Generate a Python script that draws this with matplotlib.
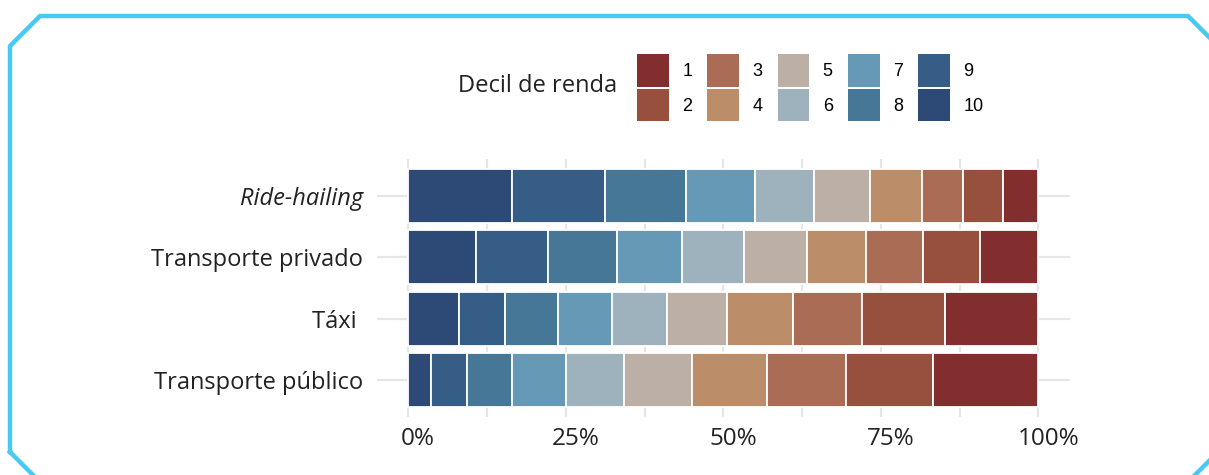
import numpy as np
import matplotlib
matplotlib.use('Agg')
import matplotlib.pyplot as plt
from matplotlib.patches import Patch
from matplotlib.lines import Line2D
from matplotlib.transforms import ScaledTranslation

# ---------------- Dados (% dos usuários por decil de renda) ----------------
modos = ['Transporte público', 'Táxi ', 'Transporte privado', 'Ride-hailing']
decis = ['1', '2', '3', '4', '5', '6', '7', '8', '9', '10']

# valores na ordem decil 1 ... decil 10
publico = [16.7, 13.9, 12.5, 11.9, 10.7, 9.3, 8.5, 7.1, 5.8, 3.6]
taxi = [14.8, 13.2, 10.9, 10.6, 9.5, 8.7, 8.5, 8.5, 7.3, 8.0]
privado = [9.3, 9.1, 9.0, 9.4, 9.9, 9.9, 10.3, 11.0, 11.3, 10.8]
ride_hailing = [5.7, 6.2, 6.6, 8.2, 8.9, 9.3, 11.0, 12.8, 14.8, 16.5]

cores = ['#832E2E', '#974F3E', '#AA6C55', '#BB8E69', '#BCAFA5',
         '#9DB2BD', '#6699B5', '#467797', '#365D86', '#2D4A77']

tick_pos = [0, 25, 50, 75, 100]
tick_txt = ['0%', '25%', '50%', '75%', '100%']

# ---------------- Figura ----------------
W, H = 1209, 475
fig = plt.figure(figsize=(W / 100, H / 100), dpi=100)
ax = fig.add_axes([376.7 / W, 1 - 417 / H, (1070 - 376.7) / W, (417 - 159) / H])

dados = np.array([publico, taxi, privado, ride_hailing])
y = np.arange(len(modos))

# empilha do decil 10 (esquerda) ao decil 1 (direita)
esquerda = np.zeros(len(modos))
for i in range(9, -1, -1):
    ax.barh(y, dados[:, i], left=esquerda, height=0.88, color=cores[i],
            edgecolor='white', linewidth=1.3, zorder=3)
    esquerda = esquerda + dados[:, i]

ax.set_xlim(-5, 105)
ax.set_ylim(-0.6, 3.6)
ax.set_xticks(tick_pos)
ax.set_xticklabels(tick_txt, family='Open Sans', fontsize=17.5, color='#222222')
ax.set_xticks([12.5, 37.5, 62.5, 87.5], minor=True)
ax.set_yticks(y)
ax.set_yticklabels(modos, family='Open Sans', fontsize=17, color='#222222')
ax.get_yticklabels()[3].set_style('italic')
ax.tick_params(axis='both', which='both', length=0)
ax.tick_params(axis='x', pad=7)
ax.tick_params(axis='y', pad=10)
ax.grid(True, which='both', color='#E6E6E6', linewidth=1.6, zorder=0)
for s in ax.spines.values():
    s.set_visible(False)

# rótulos de % ficam um pouco deslocados para a direita no original
desloc = ScaledTranslation(10 / 100, 0, fig.dpi_scale_trans)
for lbl in ax.get_xticklabels():
    lbl.set_transform(lbl.get_transform() + desloc)

# ---------------- Legenda ----------------
handles = [Patch(facecolor=cores[i], edgecolor='none') for i in range(10)]
leg = fig.legend(handles, decis, ncol=5, loc='upper left',
                 bbox_to_anchor=(637 / W, 1 - 54 / H), frameon=False,
                 prop={'family': 'Liberation Sans', 'size': 13},
                 handlelength=1.75, handleheight=2.4, handletextpad=0.75,
                 labelspacing=0.12, columnspacing=0.84, borderpad=0,
                 borderaxespad=0)
fig.text(617 / W, 1 - 86 / H, 'Decil de renda', family='Open Sans',
         fontsize=17, color='#222222', ha='right', va='center')

# ---------------- Moldura ----------------
px = [10, 10, 40, 1188, 1218, 1218, 1188, 40, 10]
py = [452, 46, 16, 16, 46, 452, 482, 482, 452]
fig.add_artist(Line2D([v / W for v in px], [1 - v / H for v in py],
                      transform=fig.transFigure, color='#48C9F1',
                      linewidth=3.2, solid_joinstyle='miter'))

plt.savefig('out.png', dpi=100)
